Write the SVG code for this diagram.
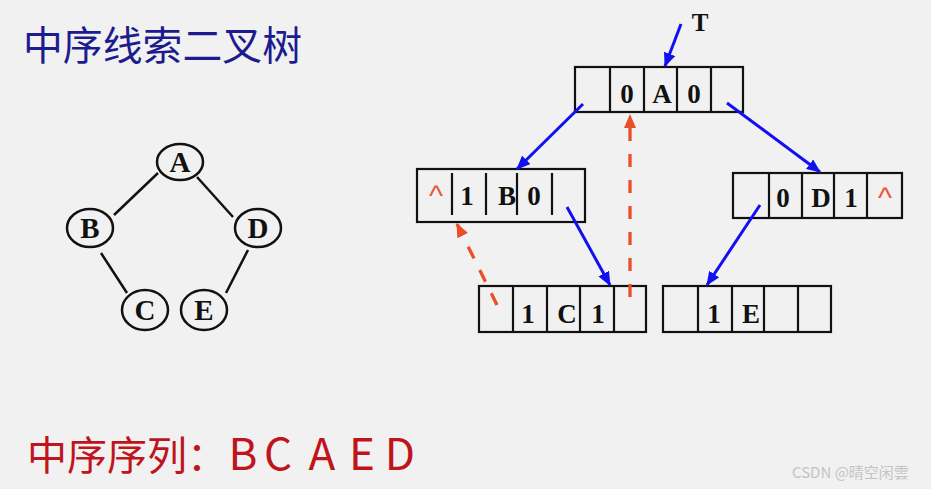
<svg xmlns="http://www.w3.org/2000/svg" width="931" height="489" viewBox="0 0 931 489">
<style>
.box{fill:none;stroke:#111;stroke-width:2.2}
.div{stroke:#111;stroke-width:2.2}
.cell{font-family:"Liberation Serif","DejaVu Serif",serif;font-weight:bold;font-size:27px;fill:#111;text-anchor:middle}
.nil{font-family:"Liberation Sans","DejaVu Sans",sans-serif;font-size:30px;fill:#e8583a;text-anchor:middle}
.tn{fill:none;stroke:#111;stroke-width:2.5}
.tl{font-family:"Liberation Serif","DejaVu Serif",serif;font-weight:bold;font-size:29px;fill:#111;text-anchor:middle}
.edge{stroke:#111;stroke-width:2.5}
.blue{stroke:#1010f0;stroke-width:3;fill:none}
.red{stroke:#ea4f28;stroke-width:3.3;fill:none;stroke-dasharray:13 13}
.seq{font-family:"Noto Sans CJK SC",sans-serif;fill:#c0141c}
</style>
<defs>
<marker id="ab" markerUnits="userSpaceOnUse" markerWidth="16" markerHeight="12" refX="13" refY="6" orient="auto"><path d="M0,0 L14,6 L0,12 z" fill="#1010f0"/></marker>
<marker id="ar" markerUnits="userSpaceOnUse" markerWidth="16" markerHeight="12" refX="13" refY="6" orient="auto"><path d="M0,0 L14,6 L0,12 z" fill="#ea4f28"/></marker>
</defs>
<rect width="931" height="489" fill="#f1f1f1"/>
<text x="23" y="60" font-family="'Noto Sans CJK SC',sans-serif" font-size="40" fill="#1c1c8e" textLength="279" lengthAdjust="spacingAndGlyphs">中序线索二叉树</text>

<g id="tree-edges">
<line class="edge" x1="158" y1="173" x2="114" y2="215"/>
<line class="edge" x1="197" y1="177" x2="233" y2="217"/>
<line class="edge" x1="101" y1="253" x2="127" y2="293"/>
<line class="edge" x1="248" y1="250" x2="226" y2="293"/>
</g>
<g id="treeA"><ellipse class="tn" cx="180" cy="162" rx="23" ry="18"/><text class="tl" x="180" y="172">A</text></g>
<g id="treeB"><ellipse class="tn" cx="90" cy="228" rx="23" ry="19"/><text class="tl" x="90" y="238">B</text></g>
<g id="treeD"><ellipse class="tn" cx="258" cy="228" rx="23" ry="19"/><text class="tl" x="258" y="238">D</text></g>
<g id="treeC"><ellipse class="tn" cx="145" cy="310" rx="23" ry="20"/><text class="tl" x="145" y="320">C</text></g>
<g id="treeE"><ellipse class="tn" cx="204" cy="310" rx="23" ry="20"/><text class="tl" x="204" y="320">E</text></g>

<g id="T"><text x="700" y="31" font-family="'Liberation Serif',serif" font-weight="bold" font-size="25" fill="#111" text-anchor="middle">T</text></g>

<g id="nodeA">
<rect class="box" x="575" y="67" width="168" height="45"/>
<line class="div" x1="610" y1="67" x2="610" y2="112"/>
<line class="div" x1="644" y1="67" x2="644" y2="112"/>
<line class="div" x1="677" y1="67" x2="677" y2="112"/>
<line class="div" x1="711" y1="67" x2="711" y2="112"/>
<text class="cell" x="627" y="103">0</text>
<text class="cell" x="662" y="103">A</text>
<text class="cell" x="694" y="103">0</text>
</g>

<g id="nodeB">
<rect class="box" x="417" y="169" width="168" height="53"/>
<line class="div" x1="452" y1="173" x2="452" y2="215"/>
<line class="div" x1="486" y1="173" x2="486" y2="215"/>
<line class="div" x1="517" y1="173" x2="517" y2="215"/>
<line class="div" x1="552" y1="173" x2="552" y2="215"/>
<text class="nil" x="436" y="206">^</text>
<text class="cell" x="467" y="205">1</text>
<text class="cell" x="507" y="205">B</text>
<text class="cell" x="534" y="205">0</text>
</g>

<g id="nodeD">
<rect class="box" x="733" y="173" width="169" height="45"/>
<line class="div" x1="769" y1="173" x2="769" y2="218"/>
<line class="div" x1="802" y1="173" x2="802" y2="218"/>
<line class="div" x1="834" y1="173" x2="834" y2="218"/>
<line class="div" x1="867" y1="173" x2="867" y2="218"/>
<text class="cell" x="783" y="207">0</text>
<text class="cell" x="821" y="207">D</text>
<text class="cell" x="851" y="207">1</text>
<text class="nil" x="885" y="208">^</text>
</g>

<g id="nodeC">
<rect class="box" x="479" y="286" width="167" height="46"/>
<line class="div" x1="513" y1="286" x2="513" y2="332"/>
<line class="div" x1="547" y1="286" x2="547" y2="332"/>
<line class="div" x1="580" y1="286" x2="580" y2="332"/>
<line class="div" x1="614" y1="286" x2="614" y2="332"/>
<text class="cell" x="528" y="323">1</text>
<text class="cell" x="567" y="323">C</text>
<text class="cell" x="598" y="323">1</text>
</g>

<g id="nodeE">
<rect class="box" x="663" y="286" width="168" height="46"/>
<line class="div" x1="698" y1="286" x2="698" y2="332"/>
<line class="div" x1="732" y1="286" x2="732" y2="332"/>
<line class="div" x1="764" y1="286" x2="764" y2="332"/>
<line class="div" x1="798" y1="286" x2="798" y2="332"/>
<text class="cell" x="714" y="323">1</text>
<text class="cell" x="751" y="323">E</text>
</g>

<g id="connectors">
<line class="blue" x1="681" y1="24" x2="665" y2="66" marker-end="url(#ab)"/>
<line class="blue" x1="583" y1="104" x2="517" y2="169" marker-end="url(#ab)"/>
<line class="blue" x1="727" y1="103" x2="820" y2="172" marker-end="url(#ab)"/>
<line class="blue" x1="567" y1="207" x2="610" y2="285" marker-end="url(#ab)"/>
<line class="blue" x1="760" y1="205" x2="707" y2="285" marker-end="url(#ab)"/>
<line class="red" x1="497" y1="305" x2="457" y2="224" marker-end="url(#ar)"/>
<line class="red" x1="630" y1="297" x2="630" y2="115" marker-end="url(#ar)"/>
</g>

<text class="seq" x="27" y="470" font-size="40">中序序列：</text>
<text class="seq" y="470" font-size="44" text-anchor="middle"><tspan x="243">B</tspan><tspan x="278">C</tspan><tspan x="322">A</tspan><tspan x="362">E</tspan><tspan x="400">D</tspan></text>
<text x="792" y="478" font-family="'Noto Sans CJK SC',sans-serif" font-size="15" fill="#c4c4c4">CSDN @晴空闲雲</text>
</svg>
